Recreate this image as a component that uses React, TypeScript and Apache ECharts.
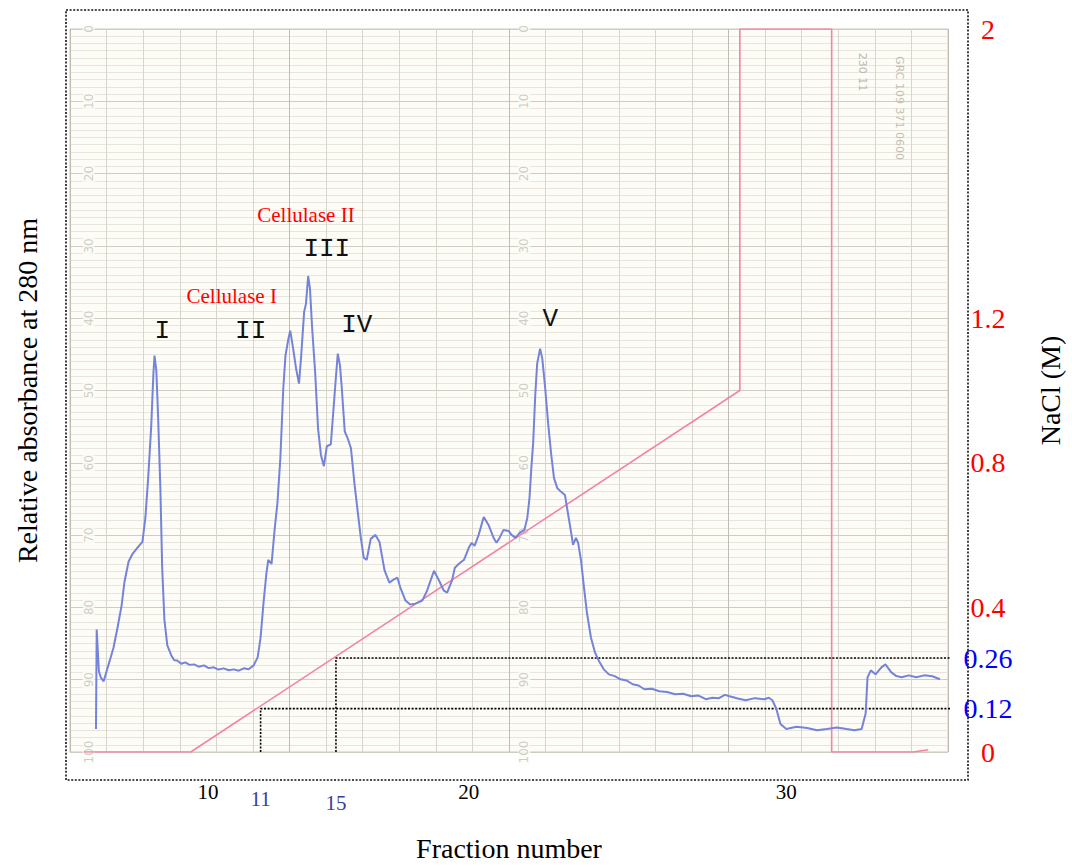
import React, { useEffect, useRef } from 'react';
import * as echarts from 'echarts';

// Blue pen: relative absorbance at 280 nm, [chart position (paper divisions), absorbance (% of paper scale)]
const absorbanceTrace: [number, number][] = [
  [0.71, 3.17], [0.73, 16.94], [0.79, 11.16], [0.84, 10.33], [0.92, 9.78], [1.0, 11.16], [1.08, 12.53],
  [1.19, 14.46], [1.3, 17.22], [1.41, 20.25], [1.49, 23.55], [1.6, 26.31], [1.71, 27.41], [1.84, 28.24],
  [1.98, 29.06], [2.06, 32.37], [2.14, 38.15], [2.22, 45.04], [2.28, 52.34], [2.31, 54.82], [2.36, 52.75],
  [2.41, 46.14], [2.47, 36.5], [2.52, 25.48], [2.58, 18.32], [2.66, 14.74], [2.77, 13.36], [2.85, 12.7],
  [2.93, 12.67], [3.04, 12.2], [3.15, 12.4], [3.27, 12.05], [3.39, 12.12], [3.52, 11.8], [3.66, 11.98],
  [3.79, 11.6], [3.93, 11.71], [4.06, 11.4], [4.2, 11.57], [4.34, 11.3], [4.48, 11.43], [4.61, 11.25],
  [4.75, 11.57], [4.88, 11.45], [5.02, 11.98], [5.13, 13.09], [5.21, 15.84], [5.29, 20.66], [5.37, 24.79],
  [5.42, 26.58], [5.51, 26.03], [5.59, 30.58], [5.67, 34.44], [5.75, 40.63], [5.83, 50.28], [5.89, 54.82],
  [5.97, 57.16], [6.02, 58.26], [6.1, 55.79], [6.18, 53.03], [6.26, 50.96], [6.32, 54.82], [6.4, 60.88],
  [6.45, 61.98], [6.51, 65.84], [6.56, 64.05], [6.62, 58.54], [6.7, 52.62], [6.78, 44.77], [6.86, 41.05],
  [6.94, 39.53], [7.02, 42.29], [7.13, 42.56], [7.21, 47.93], [7.27, 51.93], [7.32, 55.1], [7.38, 53.44],
  [7.43, 50.28], [7.51, 44.35], [7.59, 43.39], [7.68, 42.01], [7.78, 36.91], [7.86, 33.47], [7.95, 29.61],
  [8.03, 26.86], [8.11, 26.58], [8.22, 29.48], [8.35, 30.03], [8.46, 29.06], [8.6, 25.07], [8.73, 23.42],
  [8.84, 23.83], [8.95, 24.1], [9.03, 22.73], [9.17, 20.94], [9.3, 20.39], [9.44, 20.52], [9.63, 20.94],
  [9.76, 22.31], [9.95, 25.07], [10.09, 23.69], [10.22, 22.31], [10.31, 22.04], [10.44, 23.69], [10.52, 25.48],
  [10.63, 26.03], [10.77, 26.58], [10.9, 28.24], [10.98, 28.93], [11.06, 28.51], [11.17, 30.03], [11.31, 32.51],
  [11.44, 31.4], [11.58, 29.61], [11.66, 28.93], [11.74, 29.61], [11.85, 30.72], [11.99, 30.58], [12.07, 30.03],
  [12.18, 29.61], [12.29, 30.3], [12.42, 30.72], [12.5, 32.37], [12.56, 35.12], [12.61, 39.26], [12.66, 42.7],
  [12.72, 49.59], [12.77, 53.72], [12.85, 55.79], [12.91, 54.41], [12.99, 50.28], [13.07, 45.45], [13.15, 41.32],
  [13.23, 37.88], [13.32, 36.5], [13.4, 36.09], [13.53, 35.54], [13.61, 33.06], [13.7, 30.3], [13.75, 28.65],
  [13.83, 29.61], [13.89, 28.93], [13.97, 26.45], [14.05, 22.73], [14.13, 19.28], [14.24, 15.84], [14.35, 13.77],
  [14.45, 12.67], [14.59, 11.43], [14.73, 10.74], [14.89, 10.5], [15.05, 10.06], [15.21, 9.9], [15.38, 9.37],
  [15.54, 9.2], [15.7, 8.68], [15.9, 8.75], [16.11, 8.4], [16.32, 8.3], [16.54, 7.99], [16.76, 8.05],
  [16.98, 7.71], [17.18, 7.8], [17.38, 7.3], [17.56, 7.5], [17.74, 7.44], [17.9, 7.9], [18.03, 7.71],
  [18.25, 7.4], [18.47, 7.16], [18.72, 7.45], [18.98, 7.3], [19.1, 7.5], [19.2, 7.16], [19.31, 5.92],
  [19.42, 3.86], [19.58, 3.17], [19.86, 3.5], [20.15, 3.31], [20.42, 3.0], [20.69, 3.17], [20.96, 3.4],
  [21.23, 3.17], [21.44, 3.0], [21.64, 3.17], [21.75, 5.37], [21.8, 10.33], [21.89, 11.29], [22.02, 10.74],
  [22.18, 11.71], [22.29, 12.12], [22.45, 11.02], [22.59, 10.5], [22.73, 10.33], [22.93, 10.6], [23.13, 10.33],
  [23.35, 10.6], [23.57, 10.47], [23.78, 10.06],
];

// Pink pen: NaCl concentration (M) — [chart position, M]
const naclGradient: [number, number][] = [
  [0.38, 0], [3.3, 0], [18.31, 1.0], [18.31, 2.0], [20.82, 2.0], [20.82, 0], [23.05, 0], [23.46, 0.006],
];

// Fraction-number tick labels and the chart position where each is printed
const fractionLabels = ['10', '11', '15', '20', '30'];
const fractionLabelAt = [3.77, 5.21, 7.27, 10.9, 19.58];

// Guides: fractions 11 and 15 reach 0.12 M and 0.26 M NaCl
const guideFractions = ['11', '15'];
const guideAt = [5.21, 7.27];
const guideNaCl = [0.12, 0.26];
const guideEnd = 24.35;

// NaCl axis tick labels
const naclTicks = [0, 0.12, 0.26, 0.4, 0.8, 1.2, 2];
const naclHighlight = [0.12, 0.26];

// Printed scale of the recorder paper (0 at the top, 100 at the bottom)
const paperScale = [0, 10, 20, 30, 40, 50, 60, 70, 80, 90, 100];
const paperScaleColumns = [0.51, 12.42];

// Peak annotations (anchored to data coordinates)
const peakNames = ['I', 'II', 'III', 'IV', 'V'];
const peakAt: [number, number][] = [[2.52, 58.26], [4.94, 58.26], [7.02, 69.56], [7.84, 59.09], [13.13, 59.92]];
const enzymeNames = ['Cellulase I', 'Cellulase II'];
const enzymeAt: [number, number][] = [[4.42, 63.09], [6.45, 74.24]];

const serif = "'Liberation Serif', 'Times New Roman', serif";
const mono = "'Liberation Mono', 'Courier New', monospace";
const paper = '#fdfcf7';

function buildOption(): any {
  const scaleData: any[] = [];
  paperScaleColumns.forEach((x) => {
    paperScale.forEach((v) => scaleData.push([x, 100 - v, String(v)]));
  });

  const guideSeries = guideAt.map((x, i) => ({
    type: 'line',
    xAxisIndex: 0,
    yAxisIndex: 1,
    clip: false,
    silent: true,
    symbol: 'none',
    z: 4,
    lineStyle: { color: '#000', width: 1.6, type: [2, 1.6] },
    data: [[x, 0], [x, guideNaCl[i]], [guideEnd, guideNaCl[i]]],
  }));

  const markData: any[] = [];
  peakNames.forEach((t, i) =>
    markData.push({
      coord: peakAt[i],
      label: { show: true, position: 'inside', formatter: t, fontFamily: mono, fontSize: 26, color: '#111' },
    })
  );
  enzymeNames.forEach((t, i) =>
    markData.push({
      coord: enzymeAt[i],
      label: { show: true, position: 'inside', formatter: t, fontFamily: serif, fontSize: 21, color: '#ff0000' },
    })
  );

  return {
    animation: false,
    backgroundColor: '#ffffff',
    grid: {
      left: 70, right: 117, top: 29, bottom: 112,
      show: true, backgroundColor: paper, borderColor: '#cbc9c0', borderWidth: 1,
    },
    xAxis: [
      {
        type: 'value', min: 0, max: 24, interval: 6,
        axisLine: { show: false }, axisTick: { show: false }, axisLabel: { show: false },
        splitLine: { show: true, lineStyle: { color: '#bfbdb3', width: 1 } },
        minorTick: { show: false, splitNumber: 6 },
        minorSplitLine: { show: true, lineStyle: { color: '#d8d6cc', width: 1 } },
      },
      {
        type: 'value', min: 0, max: 24, position: 'bottom',
        axisLine: { show: false }, axisTick: { show: false }, splitLine: { show: false },
        name: 'Fraction number', nameLocation: 'middle', nameGap: 82,
        nameTextStyle: { fontFamily: serif, fontSize: 28, color: '#000' },
        axisLabel: {
          customValues: fractionLabelAt,
          margin: 29,
          formatter: (v: number) => {
            const i = fractionLabelAt.indexOf(v);
            if (i < 0) return '';
            const lab = fractionLabels[i];
            const g = guideFractions.indexOf(lab);
            const style = g < 0 ? 'k' : g === 0 ? 'b' : 'c';
            return `{${style}|${lab}}`;
          },
          rich: {
            k: { color: '#000', fontSize: 21, fontFamily: serif },
            b: { color: '#3c3c9c', fontSize: 21, fontFamily: serif, padding: [7, 0, 0, 0] },
            c: { color: '#3c3c9c', fontSize: 21, fontFamily: serif, padding: [11, 0, 0, 0] },
          },
        },
      },
    ],
    yAxis: [
      {
        type: 'value', min: 0, max: 100, interval: 10,
        name: 'Relative absorbance at 280 nm', nameLocation: 'middle', nameGap: 29, nameRotate: 90,
        nameTextStyle: { fontFamily: serif, fontSize: 28, color: '#000' },
        axisLine: { show: false }, axisTick: { show: false }, axisLabel: { show: false },
        splitLine: { show: true, lineStyle: { color: '#cfccc1', width: 1 } },
        minorTick: { show: false, splitNumber: 10 },
        minorSplitLine: { show: true, lineStyle: { color: '#e7e5dc', width: 1 } },
      },
      {
        type: 'value', min: 0, max: 2, position: 'right',
        name: 'NaCl (M)', nameLocation: 'middle', nameGap: 88, nameRotate: 90,
        nameTextStyle: { fontFamily: serif, fontSize: 28, color: '#000' },
        axisLine: { show: false }, axisTick: { show: false }, splitLine: { show: false },
        axisLabel: {
          customValues: naclTicks,
          margin: 40,
          align: 'center',
          formatter: (v: number) => (naclHighlight.indexOf(v) >= 0 ? `{b|${v}}` : `{r|${v}}`),
          rich: {
            r: { color: '#ff0000', fontSize: 28, fontFamily: serif },
            b: { color: '#0000ff', fontSize: 28, fontFamily: serif },
          },
        },
      },
    ],
    graphic: [
      {
        type: 'rect', z: 100, silent: true,
        shape: { x: 66, y: 10, width: 902, height: 770 },
        style: { fill: 'transparent', stroke: '#111', lineWidth: 1.6, lineDash: [2, 1.6] },
      },
      {
        type: 'text', x: 862, y: 72, rotation: -Math.PI / 2, silent: true, z: 50,
        style: { text: '230 11', fontSize: 11, fill: '#b9b7ad', fontFamily: 'DejaVu Sans', align: 'center', verticalAlign: 'middle' },
      },
      {
        type: 'text', x: 899, y: 108, rotation: -Math.PI / 2, silent: true, z: 50,
        style: { text: 'GRC 109 371 0600', fontSize: 11, fill: '#c2c0b6', fontFamily: 'DejaVu Sans', align: 'center', verticalAlign: 'middle' },
      },
    ],
    series: [
      {
        type: 'scatter', xAxisIndex: 0, yAxisIndex: 0, silent: true, z: 1,
        symbolSize: 1, itemStyle: { color: 'transparent' },
        data: scaleData,
        label: {
          show: true, position: 'inside', rotate: 90,
          formatter: (p: any) => p.value[2],
          color: '#c3c1b6', fontSize: 12, fontFamily: 'DejaVu Sans',
          backgroundColor: paper, padding: [0, 2],
        },
      },
      {
        type: 'line', name: 'NaCl', xAxisIndex: 0, yAxisIndex: 1, symbol: 'none', silent: true, z: 3,
        lineStyle: { color: '#f384a8', width: 1.6 },
        data: naclGradient,
      },
      ...guideSeries,
      {
        type: 'line', name: 'A280', xAxisIndex: 0, yAxisIndex: 0, symbol: 'none', silent: true, z: 5,
        lineStyle: { color: '#7583d8', width: 2 },
        data: absorbanceTrace,
        markPoint: {
          silent: true, symbol: 'circle', symbolSize: 1,
          itemStyle: { color: 'transparent' },
          data: markData,
        },
      },
    ],
  };
}

export default function App() {
  const ref = useRef<HTMLDivElement>(null);
  useEffect(() => {
    const chart = echarts.init(ref.current as HTMLDivElement, undefined, { renderer: 'svg' });
    chart.setOption(buildOption());
    return () => chart.dispose();
  }, []);
  return <div ref={ref} style={{ position: 'fixed', left: 0, top: 0, width: 1072, height: 867 }} />;
}
